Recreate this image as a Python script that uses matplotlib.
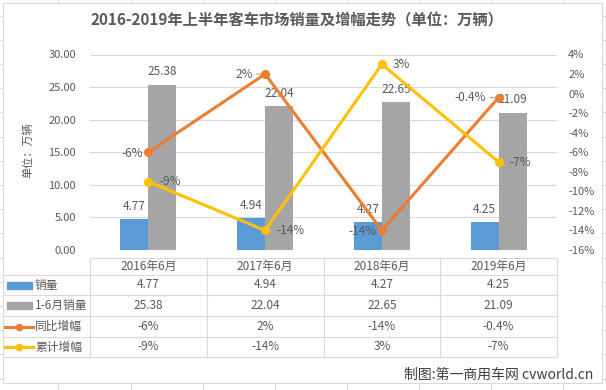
import numpy as np
import matplotlib
matplotlib.use("Agg")
import matplotlib.pyplot as plt
import matplotlib.transforms as mtransforms
from matplotlib.patches import Rectangle
from matplotlib.lines import Line2D
from matplotlib.ticker import FuncFormatter

plt.rcParams['font.family'] = ['Noto Sans CJK SC', 'DejaVu Sans']

# ---- data ----
CATEGORIES   = ["2016年6月", "2017年6月", "2018年6月", "2019年6月"]
SALES_JUNE   = [4.77, 4.94, 4.27, 4.25]      # 销量 (万辆)
SALES_H1     = [25.38, 22.04, 22.65, 21.09]  # 1-6月销量 (万辆)
YOY_JUNE     = [-6, 2, -14, -0.4]            # 同比增幅 (%)
YOY_H1       = [-9, -14, 3, -7]              # 累计增幅 (%)
YOY_JUNE_TXT = ["-6%", "2%", "-14%", "-0.4%"]
YOY_H1_TXT   = ["-9%", "-14%", "3%", "-7%"]
SERIES_NAMES = ["销量", "1-6月销量", "同比增幅", "累计增幅"]
TITLE  = "2016-2019年上半年客车市场销量及增幅走势（单位：万辆）"
YLABEL = "单位：万辆"
SOURCE = "制图:第一商用车网 cvworld.cn"

# ---- layout / style ----
W, H = 606, 390
PLOT_L, PLOT_R, PLOT_T, PLOT_B = 90, 557, 54.5, 250
BLUE, GRAY, ORANGE, YELLOW = "#5B9BD5", "#A5A5A5", "#ED7D31", "#FFC000"
TXT  = "#595959"
GRID = "#D9D9D9"
FS   = 8

fig = plt.figure(figsize=(W / 100, H / 100), dpi=100)

# background axes in pixel coords (sheet cells, chart area, table)
bg = fig.add_axes([0, 0, 1, 1])
bg.set_xlim(0, W); bg.set_ylim(H, 0); bg.axis('off')
for xv in [58, 130.5, 202.5, 274.5, 346.5, 418.5, 490.5, 562.5]:
    bg.plot([xv, xv], [0, H], color="#DADADA", lw=0.8, zorder=0)
for yv in np.arange(15.5, H, 24.2):
    bg.plot([0, W], [yv, yv], color="#DADADA", lw=0.8, zorder=0)
bg.add_patch(Rectangle((2.7, 3.3), 599, 379.4, facecolor="white",
                       edgecolor=GRID, lw=0.8, zorder=1))

bg.text(297, 20, TITLE, ha='center', va='center', fontsize=11,
        fontweight='bold', color=TXT, zorder=3)
bg.text(28, 150, YLABEL, ha='center', va='center', rotation=90,
        fontsize=FS, color=TXT, zorder=3)
bg.text(593, 375, SOURCE, ha='right', va='center', fontsize=10,
        color="#404040", zorder=3)

# main plot
ax = fig.add_axes([PLOT_L / W, 1 - PLOT_B / H,
                   (PLOT_R - PLOT_L) / W, (PLOT_B - PLOT_T) / H])
ax.set_facecolor('none')
x = np.arange(len(CATEGORIES))
bw = 0.24
ax.bar(x - bw / 2, SALES_JUNE, bw, color=BLUE, zorder=2)
ax.bar(x + bw / 2, SALES_H1, bw, color=GRAY, zorder=2)
for xi, v in zip(x, SALES_JUNE):
    ax.annotate(f"{v:.2f}", (xi - bw / 2, v), xytext=(0, 4.5),
                textcoords='offset points', ha='center', va='bottom',
                fontsize=FS + 0.5, color=TXT)
for xi, v in zip(x, SALES_H1):
    ax.annotate(f"{v:.2f}", (xi + bw / 2, v), xytext=(0, 4.5),
                textcoords='offset points', ha='center', va='bottom',
                fontsize=FS + 0.5, color=TXT)

ax.set_xlim(-0.5, len(CATEGORIES) - 0.5)
ax.set_ylim(0, 30)
ax.set_yticks(np.arange(0, 31, 5))
ax.yaxis.set_major_formatter(FuncFormatter(lambda v, p: f"{v:.2f}"))
ax.set_xticks([])
ax.yaxis.grid(True, color=GRID, lw=0.8, zorder=0)
ax.set_axisbelow(True)
ax.tick_params(axis='y', length=0, pad=10, labelsize=FS, labelcolor=TXT)
for s in ax.spines.values():
    s.set_visible(False)

ax2 = ax.twinx()
ax2.plot(x, YOY_JUNE, color=ORANGE, lw=2.2, marker='o', ms=5.5, zorder=4)
ax2.plot(x, YOY_H1, color=YELLOW, lw=2.2, marker='o', ms=5.5, zorder=4)
ax2.set_ylim(-16, 4)
ax2.set_yticks(np.arange(-16, 5, 2))
ax2.yaxis.set_major_formatter(FuncFormatter(lambda v, p: f"{v:.0f}%"))
ax2.tick_params(axis='y', length=0, pad=8, labelsize=FS, labelcolor=TXT)
for s in ax2.spines.values():
    s.set_visible(False)

# orange labels sit left of the points, two of them with a short leader
lead = [False, True, False, True]
for xi, v, t, ld in zip(x, YOY_JUNE, YOY_JUNE_TXT, lead):
    if ld:
        ax2.annotate(t, (xi, v), xytext=(-9, 0), textcoords='offset points',
                     ha='right', va='center', fontsize=FS + 0.5, color=TXT,
                     arrowprops=dict(arrowstyle='-', color="#A6A6A6", lw=0.8,
                                     shrinkA=1, shrinkB=3))
    else:
        ax2.annotate(t, (xi, v), xytext=(-4, -1), textcoords='offset points',
                     ha='right', va='center', fontsize=FS + 0.5, color=TXT)
for xi, v, t in zip(x, YOY_H1, YOY_H1_TXT):
    ax2.annotate(t, (xi, v), xytext=(8, 0), textcoords='offset points',
                 ha='left', va='center', fontsize=FS + 0.5, color=TXT)

# ---- data table under the plot ----
tr = mtransforms.blended_transform_factory(ax.transData, bg.transData)
row_lines = [258, 275, 295, 316, 337, 357]
row_mid = [(a + b) / 2 for a, b in zip(row_lines[:-1], row_lines[1:])]
bg.plot([PLOT_L, PLOT_R], [row_lines[0]] * 2, color=GRID, lw=0.8, zorder=2)
for yv in row_lines[1:]:
    bg.plot([2.7, PLOT_R], [yv, yv], color=GRID, lw=0.8, zorder=2)
for b in np.arange(len(CATEGORIES) + 1) - 0.5:
    bg.plot([b, b], [row_lines[0], row_lines[-1]], color=GRID, lw=0.8,
            transform=tr, zorder=2)

rows = [CATEGORIES,
        [f"{v:.2f}" for v in SALES_JUNE],
        [f"{v:.2f}" for v in SALES_H1],
        YOY_JUNE_TXT,
        YOY_H1_TXT]
for r, (ym, vals) in enumerate(zip(row_mid, rows)):
    for xi, t in zip(x, vals):
        bg.text(xi, ym, t, transform=tr, ha='center', va='center',
                fontsize=FS + 0.5, color=TXT, zorder=3)

# legend keys in the first column
for ym, name, col, kind in zip(row_mid[1:], SERIES_NAMES,
                               [BLUE, GRAY, ORANGE, YELLOW],
                               ['bar', 'bar', 'line', 'line']):
    if kind == 'bar':
        bg.add_patch(Rectangle((7, ym - 3.5), 25, 7, color=col, zorder=3))
    else:
        bg.add_line(Line2D([5, 33], [ym, ym], color=col, lw=2.2, zorder=3))
        bg.plot([19], [ym], 'o', color=col, ms=4.5, zorder=3)
    bg.text(35, ym, name, ha='left', va='center', fontsize=FS + 0.5,
            color=TXT, zorder=3)

fig.savefig("out.png", dpi=100)
